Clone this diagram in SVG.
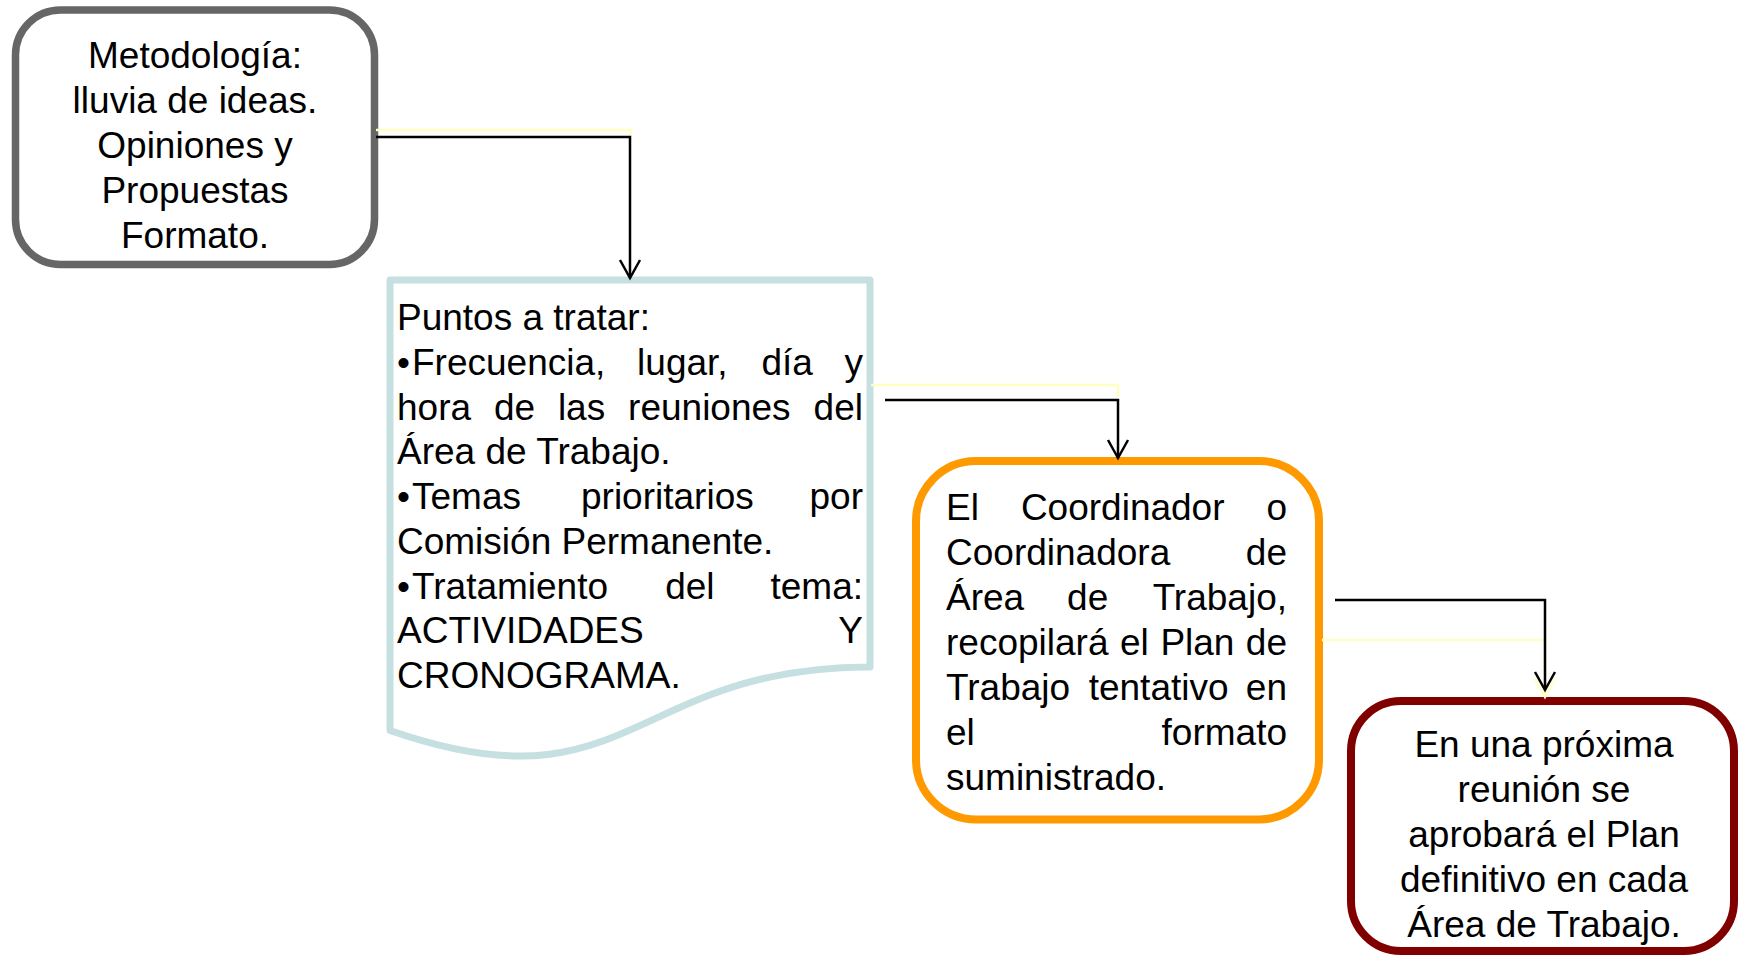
<svg xmlns="http://www.w3.org/2000/svg" width="1739" height="955" viewBox="0 0 1739 955">
<style>
  .t{font-family:"Liberation Sans",Arial,sans-serif;font-size:37px;fill:#000}
  .c{text-anchor:middle}
  .e{text-anchor:end}
  .k{fill:none;stroke:#000;stroke-width:2.5}
  .y{fill:none;stroke:#FFFFC4;stroke-width:2.5}
</style>
<defs>
  <marker id="arr" markerUnits="userSpaceOnUse" markerWidth="40" markerHeight="40" refX="0" refY="0" orient="auto" overflow="visible">
    <path d="M-18,-10 L0,0 L-18,10" fill="none" stroke="#000" stroke-width="2.5"/>
  </marker>
  <marker id="arrY" markerUnits="userSpaceOnUse" markerWidth="40" markerHeight="40" refX="0" refY="0" orient="auto" overflow="visible">
    <path d="M-18,-10 L0,0 L-18,10" fill="none" stroke="#FFFFC4" stroke-width="2.5"/>
  </marker>
</defs>
<rect width="1739" height="955" fill="#fff"/>

<g id="node1">
  <rect x="15.5" y="10" width="359" height="254.5" rx="45" fill="#fff" stroke="#666666" stroke-width="7.5"/>
  <text class="t c" x="195" y="68">Metodología:</text>
  <text class="t c" x="195" y="113">lluvia de ideas.</text>
  <text class="t c" x="195" y="158">Opiniones y</text>
  <text class="t c" x="195" y="203">Propuestas</text>
  <text class="t c" x="195" y="248">Formato.</text>
</g>

<g id="node2">
  <path d="M390,280 H870 V667 C630,667 630,814 390,730.5 Z" fill="#fff" stroke="#C6DFE0" stroke-width="7" stroke-linejoin="round"/>
  <text class="t" x="397" y="330">Puntos a tratar:</text>
  <text class="t" y="374.75"><tspan x="397">•</tspan><tspan x="412">Frecuencia,</tspan><tspan x="637.1">lugar,</tspan><tspan x="761.4">día</tspan></text>
  <text class="t e" x="863" y="374.75">y</text>
  <text class="t" y="419.5"><tspan x="397">hora</tspan><tspan x="493.9">de</tspan><tspan x="557.9">las</tspan><tspan x="628.1">reuniones</tspan></text>
  <text class="t e" x="863" y="419.5">del</text>
  <text class="t" x="397" y="464.25">Área de Trabajo.</text>
  <text class="t" y="509"><tspan x="397">•</tspan><tspan x="412">Temas</tspan><tspan x="581">prioritarios</tspan></text>
  <text class="t e" x="863" y="509">por</text>
  <text class="t" x="397" y="553.75">Comisión Permanente.</text>
  <text class="t" y="598.5"><tspan x="397">•</tspan><tspan x="412">Tratamiento</tspan><tspan x="665.2">del</tspan></text>
  <text class="t e" x="863" y="598.5">tema:</text>
  <text class="t" x="397" y="643.25">ACTIVIDADES</text>
  <text class="t e" x="863" y="643.25">Y</text>
  <text class="t" x="397" y="688">CRONOGRAMA.</text>
</g>

<g id="node3">
  <rect x="916" y="461" width="403" height="358.5" rx="60" fill="#fff" stroke="#FF9900" stroke-width="8"/>
  <text class="t" y="520"><tspan x="946">El</tspan><tspan x="1020.9">Coordinador</tspan></text>
  <text class="t e" x="1287" y="520">o</text>
  <text class="t" x="946" y="565">Coordinadora</text>
  <text class="t e" x="1287" y="565">de</text>
  <text class="t" y="610"><tspan x="946">Área</tspan><tspan x="1067.1">de</tspan></text>
  <text class="t e" x="1287" y="610">Trabajo,</text>
  <text class="t" y="655"><tspan x="946">recopilará</tspan><tspan x="1120">el</tspan><tspan x="1160.4">Plan</tspan></text>
  <text class="t e" x="1287" y="655">de</text>
  <text class="t" y="700"><tspan x="946">Trabajo</tspan><tspan x="1088.7">tentativo</tspan></text>
  <text class="t e" x="1287" y="700">en</text>
  <text class="t" x="946" y="745">el</text>
  <text class="t e" x="1287" y="745">formato</text>
  <text class="t" x="946" y="790">suministrado.</text>
</g>

<g id="node4">
  <rect x="1351" y="701" width="383" height="250" rx="50" fill="#fff" stroke="#800000" stroke-width="8"/>
  <text class="t c" x="1544" y="757">En una próxima</text>
  <text class="t c" x="1544" y="802">reunión se</text>
  <text class="t c" x="1544" y="847">aprobará el Plan</text>
  <text class="t c" x="1544" y="892">definitivo en cada</text>
  <text class="t c" x="1544" y="937">Área de Trabajo.</text>
</g>

<g id="connectors">
  <path class="y" d="M376,130 H631 V136"/>
  <path class="k" d="M376,137 H630 V278" marker-end="url(#arr)"/>
  <path class="y" d="M871,385 H1118 V397"/>
  <path class="k" d="M885,400 H1118 V458" marker-end="url(#arr)"/>
  <path class="y" d="M1322,640 H1545 V697" marker-end="url(#arrY)"/>
  <path class="k" d="M1335,600 H1545 V690" marker-end="url(#arr)"/>
</g>
</svg>
